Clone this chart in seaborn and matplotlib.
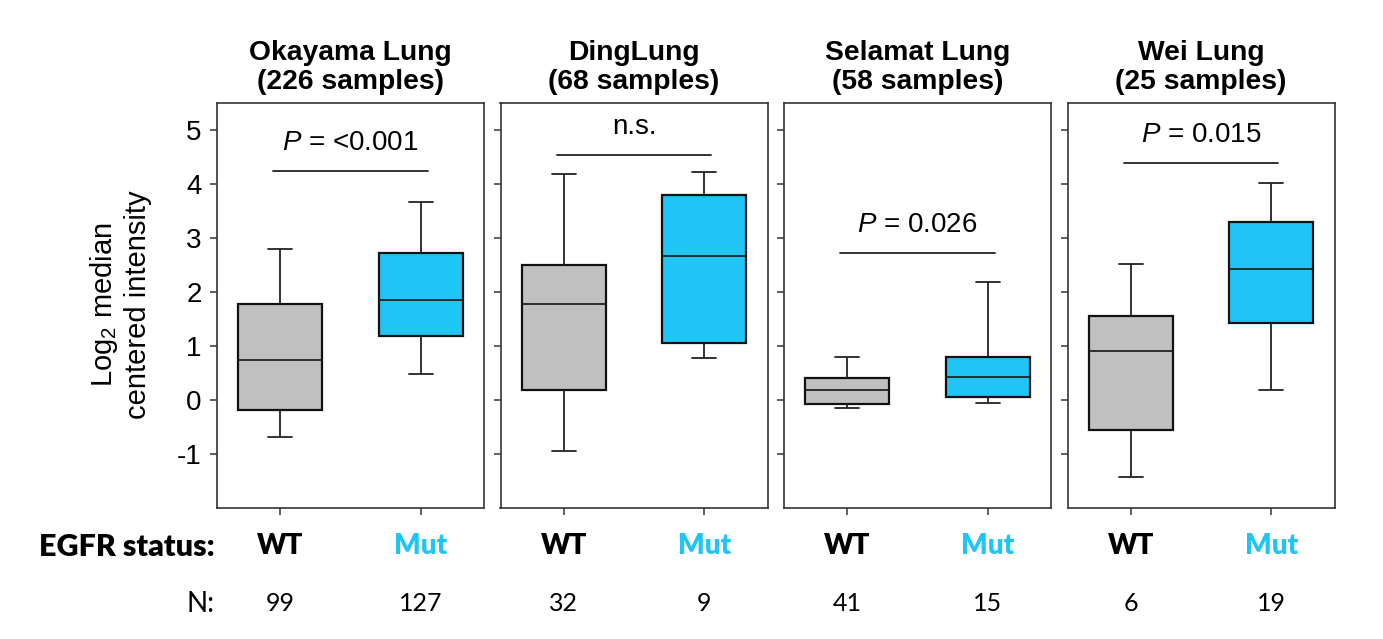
import numpy as np
import pandas as pd
import matplotlib
matplotlib.use("Agg")
import matplotlib.pyplot as plt
import seaborn as sns

# five-number summaries: low whisker, Q1, median, Q3, high whisker
datasets = ["Okayama Lung\n(226 samples)", "DingLung\n(68 samples)",
            "Selamat Lung\n(58 samples)", "Wei Lung\n(25 samples)"]
groups = ["WT", "Mut"]
wt_stats = [
    [-0.68, -0.18, 0.74, 1.77, 2.79],
    [-0.95, 0.18, 1.77, 2.50, 4.18],
    [-0.15, -0.07, 0.18, 0.41, 0.79],
    [-1.43, -0.56, 0.90, 1.56, 2.52],
]
mut_stats = [
    [0.49, 1.19, 1.86, 2.73, 3.67],
    [0.77, 1.05, 2.66, 3.80, 4.22],
    [-0.06, 0.05, 0.43, 0.80, 2.19],
    [0.19, 1.42, 2.42, 3.29, 4.01],
]
n_wt = [99, 32, 41, 6]
n_mut = [127, 9, 15, 19]
p_labels = ["$\\it{P}$ = <0.001", "n.s.", "$\\it{P}$ = 0.026", "$\\it{P}$ = 0.015"]
bar_heights = [4.24, 4.53, 2.72, 4.39]

GRAY = "#C0C0C0"
BLUE = "#1FC6F5"

sns.set_style("white")
plt.rcParams["font.family"] = ["Liberation Sans", "DejaVu Sans"]
plt.rcParams["mathtext.fontset"] = "custom"
plt.rcParams["mathtext.it"] = "Liberation Sans:italic"
plt.rcParams["mathtext.rm"] = "Liberation Sans"
plt.rcParams["axes.unicode_minus"] = False
plt.rcParams["text.color"] = "black"
plt.rcParams["axes.labelcolor"] = "black"
plt.rcParams["xtick.color"] = "black"
plt.rcParams["ytick.color"] = "black"

W, H = 1383, 639
fig = plt.figure(figsize=(W / 100, H / 100), dpi=100)

left0, pw, gap = 217, 267, 16.5
bottom_px, top_px = 508, 103

for i in range(4):
    l = left0 + i * (pw + gap)
    ax = fig.add_axes([l / W, 1 - bottom_px / H, pw / W, (bottom_px - top_px) / H])
    df = pd.DataFrame({
        "status": ["WT"] * 5 + ["Mut"] * 5,
        "value": wt_stats[i] + mut_stats[i],
    })
    sns.boxplot(data=df, x="status", y="value", hue="status", order=groups,
                palette={"WT": GRAY, "Mut": BLUE}, saturation=1, whis=(0, 100),
                width=0.6, linewidth=1.3, linecolor="#222222", fliersize=0,
                capwidths=0.17, legend=False, ax=ax,
                boxprops=dict(linewidth=1.6, edgecolor="#111111"))
    ax.set_xlim(-0.45, 1.45)
    ax.set_ylim(-2.0, 5.5)
    ax.set_yticks([-1, 0, 1, 2, 3, 4, 5])
    ax.set_xticks([0, 1])
    ax.set_xticklabels([])
    ax.set_xlabel("")
    ax.set_ylabel("")
    ax.tick_params(axis="both", direction="out", length=5, width=1.2,
                   color="#444444", left=True, bottom=True, labelsize=20, pad=6)
    if i > 0:
        ax.set_yticklabels([])
    for s in ax.spines.values():
        s.set_color("#333333")
        s.set_linewidth(1.2)

    ax.set_title(datasets[i], fontsize=20.3, fontweight="bold", pad=10,
                 linespacing=1.15, color="black")
    ax.plot([-0.05, 1.05], [bar_heights[i]] * 2, color="#222222", lw=1.3)
    ax.text(0.5, bar_heights[i] + 0.28, p_labels[i], ha="center", va="bottom", fontsize=20)

    tr = ax.get_xaxis_transform()
    ax.text(0, -0.094, "WT", transform=tr, ha="center", va="center",
            fontsize=20, fontweight="heavy", family="Lato", color="black")
    ax.text(1, -0.094, "Mut", transform=tr, ha="center", va="center",
            fontsize=20, fontweight="heavy", family="Lato", color=BLUE)
    ax.text(0, -0.235, str(n_wt[i]), transform=tr, ha="center", va="center",
            fontsize=18, family="Lato")
    ax.text(1, -0.235, str(n_mut[i]), transform=tr, ha="center", va="center",
            fontsize=18, family="Lato")

fig.text(215 / W, 1 - 547 / H, "EGFR status:", ha="right", va="center",
         fontsize=22, fontweight="heavy", family="Lato")
fig.text(215 / W, 1 - 604 / H, "N:", ha="right", va="center",
         fontsize=20, family="Lato")
fig.text(120 / W, 1 - 305 / H, "Log$_2$ median\ncentered intensity", rotation=90,
         ha="center", va="center", fontsize=21, linespacing=1.2)

fig.savefig("out.png", dpi=100)
